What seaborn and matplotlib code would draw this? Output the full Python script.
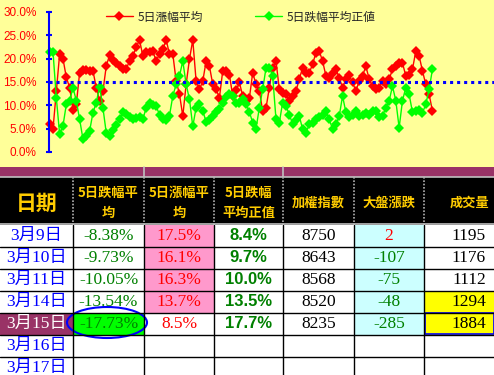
import numpy as np
import pandas as pd
import seaborn as sns
import matplotlib.pyplot as plt
from matplotlib.patches import Rectangle, Ellipse

# 5-day average rise / abs. 5-day average fall (%)
rise_avg = [5.9, 4.9, 13, 21, 20, 16, 13.8, 9, 10.2, 17,
            17.6, 17.6, 17.4, 17.4, 13.8, 11, 13, 18.4, 20.8, 19.8,
            19, 18.4, 17.7, 17.7, 19.6, 20.6, 22.5, 24, 20.6, 21.5,
            21.5, 21.6, 19.5, 21, 22, 24, 21, 21, 15.2, 12.4,
            7.7, 14.5, 19.9, 24, 15.2, 13.4, 15.2, 19.4, 18.4, 14.5,
            13.5, 11.6, 17.4, 17.4, 16.6, 12, 13.2, 14.9, 12, 11,
            11.5,
            17, 14.5, 13.1, 8.8, 9.4, 13.8, 18.1, 19.5, 13.4, 12.7,
            12.4, 10.9, 12, 13.1, 15.6, 18.1, 17, 17, 18.8, 21.3,
            21.6, 19.5, 16.3, 15.8, 17, 17.7, 15.9, 13.8, 15.6, 16.5,
            14.9, 13.1, 15.2, 16.3, 18.4, 15.6, 14.1, 13.4, 13.8, 15.2,
            14.5, 15.6, 17.7, 18.4, 19.1, 19.1, 16.3, 16.6, 17.7, 21.6,
            20.6, 17.4, 14.5, 12.4, 8.8]
fall_avg_abs = [21.5, 21.5, 11.6, 3.8, 5.6, 10.2, 11, 13.8, 11, 7,
                2.8, 3.4, 4.5, 8.4, 10.6, 14, 9.5, 4.1, 3.5, 4.8,
                5.8, 7, 8.5, 8.2, 7.5, 7, 7.2, 7.6, 7, 9.5,
                10.5, 10, 9.8, 8, 7, 6.8, 7.8, 12, 14.5, 16.3,
                19.5, 14.5, 11.3, 5.5, 9.5, 10.2, 8.8, 6.5, 6.8, 7.8,
                8.5, 9.3, 10.5, 11.7, 12.5, 12, 10.6, 10.6, 11.3, 10.2,
                8.6,
                6.3, 5, 9.5, 13.4, 18, 18, 16.3, 7, 6.3, 10.6,
                9.9, 8, 6, 6.8, 7.7, 4.9, 4.1, 5.9, 6.3, 7,
                7.4, 8, 8.8, 7, 4.9, 5.9, 7.7, 12, 8.5, 7.5,
                8, 8.8, 7.7, 8, 8.4, 8, 8.8, 8.8, 7.4, 7.7,
                9.5, 11, 14.1, 11, 5.2, 11, 13.8, 12.4, 8.5, 8.8,
                9.1, 8.4, 10.2, 13.4, 17.7]
ref_level = 15

# table below the chart
headers = ['日期', '5日跌幅平\n均', '5日漲幅平\n均', '5日跌幅\n平均正值', '加權指數', '大盤漲跌', '成交量']
dates = ['3月9日', '3月10日', '3月11日', '3月14日', '3月15日', '3月16日', '3月17日']
fall_avg = [-8.38, -9.73, -10.05, -13.54, -17.73]
rise_avg5 = [17.5, 16.1, 16.3, 13.7, 8.5]
fall_abs = [8.4, 9.7, 10.0, 13.5, 17.7]
taiex = [8750, 8643, 8568, 8520, 8235]
change = [2, -107, -75, -48, -285]
volume = [1195, 1176, 1112, 1294, 1884]

W, H = 494, 375
BG = '#FFFF99'
sns.set_style('white')
plt.rcParams['font.family'] = ['Liberation Sans', 'Noto Sans CJK TC', 'DejaVu Sans']

fig = plt.figure(figsize=(W / 100, H / 100), dpi=100, facecolor=BG)

# ---------- table (pixel coordinates) ----------
tab = fig.add_axes([0, 0, 1, 1])
tab.set_xlim(0, W)
tab.set_ylim(H, 0)
tab.axis('off')

col_x = [0, 73, 144, 214, 283, 354, 424, 494]
body_top, row_h = 224.5, 22
head_top = 177

tab.add_patch(Rectangle((0, 167), W, head_top - 167, color='#993366', lw=0))
tab.add_patch(Rectangle((0, head_top), W, body_top - head_top, color='black', lw=0))
tab.add_patch(Rectangle((0, body_top), W, H - body_top, color='white', lw=0))

def cell_bg(c, r, color):
    tab.add_patch(Rectangle((col_x[c], body_top + r * row_h), col_x[c + 1] - col_x[c], row_h,
                            color=color, lw=0))

for r in range(4):
    cell_bg(2, r, '#FF99CC')
for r in range(5):
    cell_bg(5, r, '#CCFFFF')
cell_bg(6, 3, '#FFFF00')
cell_bg(6, 4, '#FFFF00')
cell_bg(1, 4, '#00FF00')
cell_bg(0, 4, '#993366')

# grid
for x in [144, 283]:
    tab.plot([x, x], [167, head_top], color='#C0C0C0', lw=1.2)
tab.plot([0, W], [head_top - 0.5, head_top - 0.5], color='#C0C0C0', lw=1.2)
for x in col_x[1:-1]:
    tab.plot([x, x], [head_top, body_top], color='#B0B0B0', lw=1.2, ls=(0, (1, 1)))
    tab.plot([x, x], [body_top, H], color='black', lw=1)
tab.plot([0, W], [body_top - 0.5, body_top - 0.5], color='#C0C0C0', lw=1.2)
for r in range(1, 8):
    y = body_top + r * row_h
    tab.plot([0, W], [y, y], color='black', lw=1)

# header text
gold = '#FFCC00'
head_y = 203
tab.text(36.5, head_y, headers[0], color=gold, fontsize=15, fontweight='bold',
         ha='center', va='center', family=['Noto Sans CJK TC'])
for c in range(1, 6):
    tab.text((col_x[c] + col_x[c + 1]) / 2, head_y, headers[c], color=gold, fontsize=9.5,
             fontweight='bold', ha='center', va='center', linespacing=1.5,
             family=['Noto Sans CJK TC'])
tab.text(470, head_y, headers[6], color=gold, fontsize=9.5, fontweight='bold',
         ha='center', va='center', family=['Noto Sans CJK TC'])

serif = ['Liberation Serif', 'Noto Sans CJK TC']
for r, d in enumerate(dates):
    yc = body_top + r * row_h + row_h / 2
    tab.text(36.5, yc, d, color='white' if r == 4 else '#0000FF', fontsize=12.5,
             ha='center', va='center', family=serif)
for r in range(len(fall_avg)):
    yc = body_top + r * row_h + row_h / 2 + 0.5
    tab.text(108.5, yc, f'{fall_avg[r]:.2f}%', color='#008000', fontsize=12.5,
             ha='center', va='center', family=serif)
    tab.text(179, yc, f'{rise_avg5[r]:.1f}%', color='#FF0000', fontsize=12.5,
             ha='center', va='center', family=serif)
    tab.text(248.5, yc, f'{fall_abs[r]:.1f}%', color='#008000', fontsize=12,
             fontweight='bold', ha='center', va='center', family=['Liberation Sans'])
    tab.text(318.5, yc, f'{taiex[r]}', color='black', fontsize=12.5,
             ha='center', va='center', family=serif)
    tab.text(389, yc, f'{change[r]}', color='#FF0000' if change[r] > 0 else '#008000',
             fontsize=12.5, ha='center', va='center', family=serif)
    tab.text(486, yc, f'{volume[r]}', color='black', fontsize=12.5,
             ha='right', va='center', family=serif)

tab.add_patch(Ellipse((107, 322.5), 80, 31, fill=False, edgecolor='#0000FF', lw=1.5))
tab.add_patch(Rectangle((424.5, body_top + 4 * row_h + 0.5), 69, row_h - 1, fill=False,
                        edgecolor='#0000FF', lw=1.2))

# ---------- chart ----------
ax = fig.add_axes([49 / W, 1 - 152 / H, (W - 49) / W, 140 / H])
ax.set_facecolor('none')
ax.set_zorder(3)
x = np.arange(len(rise_avg))
df = pd.DataFrame({'x': x, 'rise': rise_avg, 'fall': fall_avg_abs})

sns.lineplot(data=df, x='x', y='rise', ax=ax, color='#FF0000', marker='D', markersize=5.3,
             markeredgewidth=0, linewidth=1, label='5日漲幅平均', clip_on=False)
sns.lineplot(data=df, x='x', y='fall', ax=ax, color='#00FF00', marker='D', markersize=5.3,
             markeredgewidth=0, linewidth=1, label='5日跌幅平均正値', clip_on=False)
ax.axhline(ref_level, color='#0000FF', lw=2.2, dashes=(1, 1.3))

ax.set_ylim(0, 30)
ax.set_xlim(-0.2, 133.5)
ax.set_yticks(range(0, 31, 5))
ax.set_yticklabels([f'{v:.1f}%' for v in range(0, 31, 5)])
ax.set_xticks([])
ax.set_xlabel('')
ax.set_ylabel('')
for s in ['top', 'right', 'bottom']:
    ax.spines[s].set_visible(False)
ax.spines['left'].set_color('#0000FF')
ax.spines['left'].set_linewidth(1.5)
ax.tick_params(axis='y', direction='inout', length=4, width=1.5, color='#0000FF',
               labelcolor='#FF0000', labelsize=8.5, pad=7, left=True)

ax.legend(loc='center left', bbox_to_anchor=(100 / W, 1 - 17 / H), bbox_transform=fig.transFigure,
          ncol=2, frameon=False, borderpad=0, handlelength=2.3, handletextpad=0.4,
          columnspacing=4.4, prop={'family': ['Noto Sans CJK JP'], 'size': 8.5})

fig.savefig('out.png', dpi=100, facecolor=BG)
